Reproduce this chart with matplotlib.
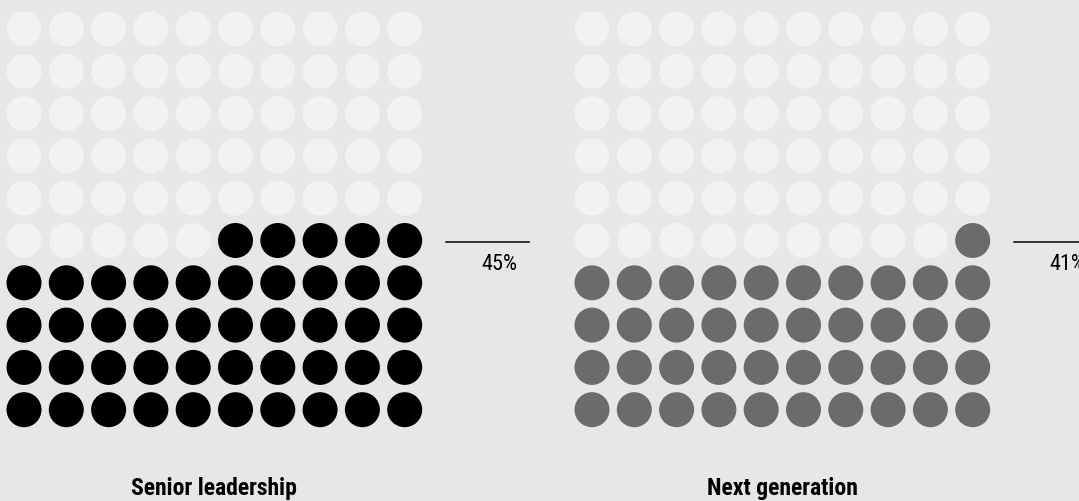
import matplotlib.pyplot as plt
from matplotlib.patches import Circle

# Données
groupes = ["Senior leadership", "Next generation"]
valeurs = [45, 41]
couleurs = ["#000000", "#6b6b6b"]

fond = "#e6e7e8"
vide = "#f2f2f2"

n_cols, n_rows = 10, 10
pas = 42.3
rayon = 17.5
x0_grilles = [24, 592]
y0 = 29

fig = plt.figure(figsize=(10.79, 5.01), dpi=100, facecolor=fond)
ax = fig.add_axes([0, 0, 1, 1])
ax.set_facecolor(fond)
ax.set_xlim(0, 1079)
ax.set_ylim(501, 0)
ax.axis("off")

for nom, val, coul, x0 in zip(groupes, valeurs, couleurs, x0_grilles):
    # remplissage depuis le bas à droite
    for i in range(n_rows * n_cols):
        rang = i // n_cols
        col = i % n_cols
        ligne = n_rows - 1 - rang
        colonne = n_cols - 1 - col
        c = coul if i < val else vide
        ax.add_patch(Circle((x0 + colonne * pas, y0 + ligne * pas), rayon,
                            facecolor=c, edgecolor="none"))
    # étiquette du pourcentage
    ligne_lab = n_rows - 1 - (val - 1) // n_cols
    y_lab = y0 + ligne_lab * pas + 1.5
    x_fin = x0 + (n_cols - 1) * pas
    ax.plot([x_fin + 41, x_fin + 124], [y_lab, y_lab], color="black", lw=1.1)
    ax.text(x_fin + 95, y_lab + 23, f"{val}%", ha="center", va="center",
            fontsize=16, family=["Roboto Condensed", "Roboto"], color="black")
    # titre du groupe
    ax.text(x0 + (n_cols - 1) * pas / 2, 488, nom, ha="center", va="center",
            fontsize=17, fontweight="bold",
            family=["Roboto Condensed", "Roboto"], color="black")

fig.savefig("out.png", dpi=100, facecolor=fond)
